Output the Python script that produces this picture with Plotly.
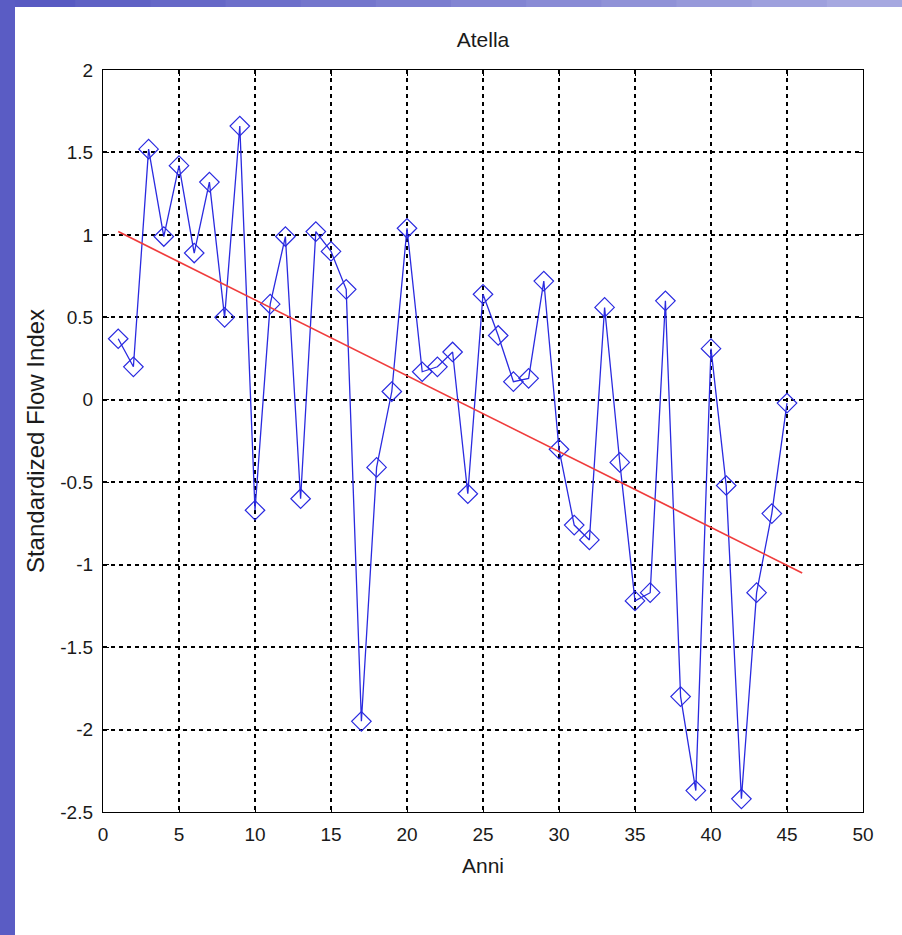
import plotly.graph_objects as go

# Data
anni = list(range(1, 46))
sfi = [0.37, 0.20, 1.52, 0.99, 1.42, 0.89, 1.32, 0.50, 1.66, -0.67,
       0.58, 0.99, -0.60, 1.02, 0.90, 0.67, -1.95, -0.41, 0.05, 1.04,
       0.17, 0.20, 0.29, -0.57, 0.64, 0.39, 0.11, 0.13, 0.72, -0.30,
       -0.76, -0.85, 0.56, -0.38, -1.22, -1.17, 0.60, -1.80, -2.37, 0.31,
       -0.52, -2.42, -1.17, -0.69, -0.02]
trend_x = [1, 46]
trend_y = [1.02, -1.05]

x_ticks = [0, 5, 10, 15, 20, 25, 30, 35, 40, 45, 50]
y_ticks = [2, 1.5, 1, 0.5, 0, -0.5, -1, -1.5, -2, -2.5]
y_ticktext = ["2", "1.5", "1", "0.5", "0", "-0.5", "-1", "-1.5", "-2", "-2.5"]

W, H = 902, 935
L, R, T, B = 103, 39, 70, 123
pw, ph = W - L - R, H - T - B

def px(x):
    return (x - L) / pw

def py(y):
    return (H - B - y) / ph

fig = go.Figure()
fig.add_trace(go.Scatter(
    x=anni, y=sfi, mode="lines+markers",
    line=dict(color="#2a2ae0", width=1.3),
    marker=dict(symbol="diamond-open", size=15, color="#2a2ae0",
                line=dict(width=1.2, color="#2a2ae0")),
    showlegend=False))
fig.add_trace(go.Scatter(
    x=trend_x, y=trend_y, mode="lines",
    line=dict(color="#f03c3c", width=1.7), showlegend=False))

shapes = []
# slide background strips (blue gradient)
n = 12
for i in range(n):
    t = i / (n - 1)
    r = int(0x58 + (0xa6 - 0x58) * t)
    g = int(0x5a + (0xa8 - 0x5a) * t)
    b = int(0xc2 + (0xe0 - 0xc2) * t)
    shapes.append(dict(type="rect", xref="paper", yref="paper",
                       x0=px(W * i / n), x1=px(W * (i + 1) / n) + 0.002,
                       y0=py(7), y1=py(0), fillcolor=f"rgb({r},{g},{b})",
                       line=dict(width=0), layer="below"))
shapes.append(dict(type="rect", xref="paper", yref="paper",
                   x0=px(0), x1=px(15), y0=py(H), y1=py(0),
                   fillcolor="#5a5cc4", line=dict(width=0), layer="below"))

fam = "Liberation Sans, Arial, sans-serif"
tick_font = dict(family=fam, size=19, color="#1a1a1a")
title_font = dict(family=fam, size=21, color="#1a1a1a")

fig.update_layout(
    width=W, height=H,
    margin=dict(l=L, r=R, t=T, b=B),
    paper_bgcolor="white", plot_bgcolor="white",
    shapes=shapes,
    title=dict(text="Atella", x=(L + pw / 2) / W, xanchor="center",
               y=1 - 40 / H, yanchor="middle", font=title_font),
    xaxis=dict(range=[0, 50], tickvals=x_ticks, ticks="inside", ticklen=6,
               tickcolor="black", showline=True, linecolor="black", linewidth=1.3,
               mirror="ticks", showgrid=True, gridcolor="black", gridwidth=1.5,
               griddash="4px,4px", zeroline=False, tickfont=tick_font,
               ticklabelstandoff=5,
               title=dict(text="Anni", font=title_font, standoff=14)),
    yaxis=dict(range=[-2.5, 2], tickvals=y_ticks, ticktext=y_ticktext,
               ticks="inside", ticklen=6, tickcolor="black", showline=True,
               linecolor="black", linewidth=1.3, mirror="ticks", showgrid=True,
               gridcolor="black", gridwidth=1.5, griddash="4px,4px", zeroline=False,
               tickfont=tick_font, ticklabelstandoff=5,
               title=dict(text="Standardized Flow Index",
                          font=dict(family=fam, size=24, color="#1a1a1a"),
                          standoff=8)),
)

fig.write_html("out.html")
